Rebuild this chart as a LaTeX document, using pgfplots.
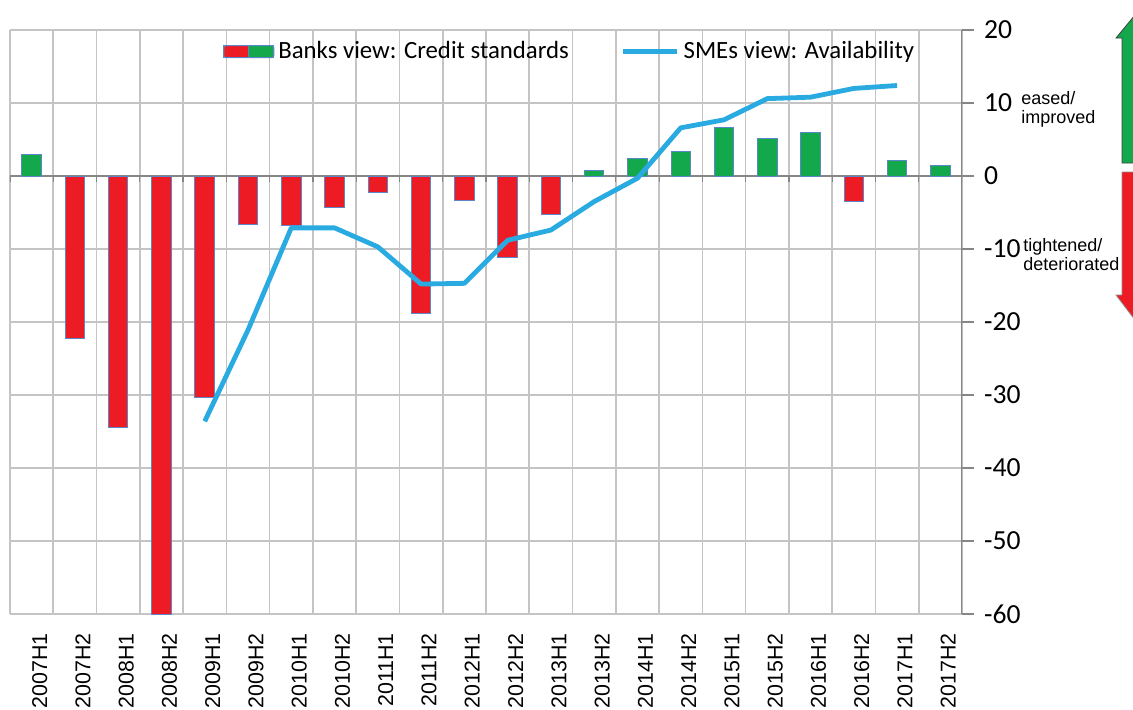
\documentclass[border=0pt]{standalone}
\usepackage{fontspec}
\setmainfont{Carlito}
\newfontfamily\arialfont{Liberation Sans}
\usepackage{pgfplots}
\pgfplotsset{compat=1.18}
\definecolor{barred}{RGB}{237,28,36}
\definecolor{bargreen}{RGB}{19,168,75}
\definecolor{baredge}{RGB}{91,135,200}
\definecolor{smeblue}{RGB}{41,171,226}
\definecolor{gridgray}{RGB}{196,196,196}
\definecolor{axisgray}{RGB}{134,134,134}

\pgfplotsset{
  twobar legend/.style={legend image code/.code={
    \path[fill=barred] (0pt,-3pt) rectangle (12.5pt,3pt);
    \path[fill=bargreen] (12.5pt,-3pt) rectangle (25pt,3pt);
    \path[draw=baredge, fill=none, line width=0.5pt, rounded corners=1pt] (0pt,-3pt) rectangle (25pt,3pt);}},
  long line legend/.style={legend image code/.code={\draw[##1] (0pt,0pt) -- (27pt,0pt);}},
}

\begin{document}
\begin{tikzpicture}
\useasboundingbox (0,0) rectangle (566.5pt,-354.5pt);
\begin{axis}[
  at={(5pt,-307pt)}, anchor=south west,
  scale only axis, width=476pt, height=292pt,
  xmin=-0.5, xmax=21.5, ymin=-60, ymax=20,
  axis line style={draw=none},
  % categories
  xtick={0,...,21},
  xticklabels={2007H1,2007H2,2008H1,2008H2,2009H1,2009H2,2010H1,2010H2,2011H1,2011H2,2012H1,2012H2,2013H1,2013H2,2014H1,2014H2,2015H1,2015H2,2016H1,2016H2,2017H1,2017H2},
  xticklabel style={rotate=90, anchor=east, yshift=-4pt, font=\arialfont\fontsize{10.7}{12}\selectfont},
  xtick style={draw=none},
  minor xtick={-0.5,0.5,...,21.5},
  minor x tick style={draw=none},
  xminorgrids=true,
  minor grid style={gridgray, line width=0.8pt},
  % values
  ytick={-60,-50,...,20},
  yticklabels={-60,-50,-40,-30,-20,-10,0,10,20},
  ytick pos=right, yticklabel pos=right,
  tick align=outside, major tick length=6pt,
  ytick style={axisgray, line width=0.8pt},
  yticklabel style={anchor=west, xshift=1.5pt, font=\fontsize{13.8}{15}\selectfont},
  ymajorgrids=true,
  major grid style={gridgray, line width=0.8pt},
  legend columns=2,
  legend style={at={(0.589,0.963)}, anchor=center, draw=none, fill=none,
    font=\fontsize{12.4}{14}\selectfont,
    /tikz/every even column/.append style={column sep=24pt}},
]
\draw[axisgray, line width=0.9pt] (axis cs:-0.5,0) -- (axis cs:21.5,0);
\draw[axisgray, line width=0.8pt] (axis cs:21.5,-60) -- (axis cs:21.5,20);
\pgfplotsinvokeforeach{-0.5,0.5,...,21.5}{\draw[axisgray, line width=0.6pt] (axis cs:#1,0) -- ++(0pt,-3pt);}

% banks view, eased (green)
\addplot[ybar, bar width=0.45, bar shift=0pt, fill=bargreen, draw=baredge, line width=0.5pt, twobar legend]
  coordinates {(0,3.0) (13,0.7) (14,2.4) (15,3.4) (16,6.7) (17,5.1) (18,6.0) (20,2.1) (21,1.4)};
\addlegendentry{Banks view: Credit standards}
% banks view, tightened (red)
\addplot[ybar, bar width=0.45, bar shift=0pt, fill=barred, draw=baredge, line width=0.5pt, forget plot]
  coordinates {(1,-22.2) (2,-34.4) (3,-60) (4,-30.4) (5,-6.6) (6,-6.8) (7,-4.3) (8,-2.2)
    (9,-18.9) (10,-3.3) (11,-11.2) (12,-5.3) (19,-3.5)};
% SMEs view
\addplot[smeblue, line width=2.4pt, line join=round, long line legend]
  coordinates {(4,-33.6) (5,-21.1) (6,-7.1) (7,-7.1) (8,-9.7) (9,-14.8) (10,-14.7)
    (11,-8.8) (12,-7.4) (13,-3.5) (14,-0.3) (15,6.6) (16,7.7) (17,10.6) (18,10.8)
    (19,12.0) (20,12.4)};
\addlegendentry{SMEs view: Availability}
\end{axis}

\begin{scope}[x=0.5pt, y=-0.5pt]
  \node[anchor=north west, align=left, inner sep=0pt, font=\arialfont\fontsize{9}{9.5}\selectfont]
    at (1021,91) {eased/\\improved};
  \node[anchor=north west, align=left, inner sep=0pt, font=\arialfont\fontsize{9}{9.5}\selectfont]
    at (1023,238) {tightened/\\deteriorated};
  \filldraw[fill=bargreen, draw=black!75, line width=0.4pt]
    (1122,163) -- (1122,38) -- (1116,38) -- (1135,15) -- (1154,38) -- (1148,38) -- (1148,163) -- cycle;
  \filldraw[fill=barred, draw=black!45, line width=0.4pt]
    (1122,172) -- (1122,295) -- (1116,295) -- (1135,320) -- (1154,295) -- (1148,295) -- (1148,172) -- cycle;
\end{scope}
\end{tikzpicture}
\end{document}
